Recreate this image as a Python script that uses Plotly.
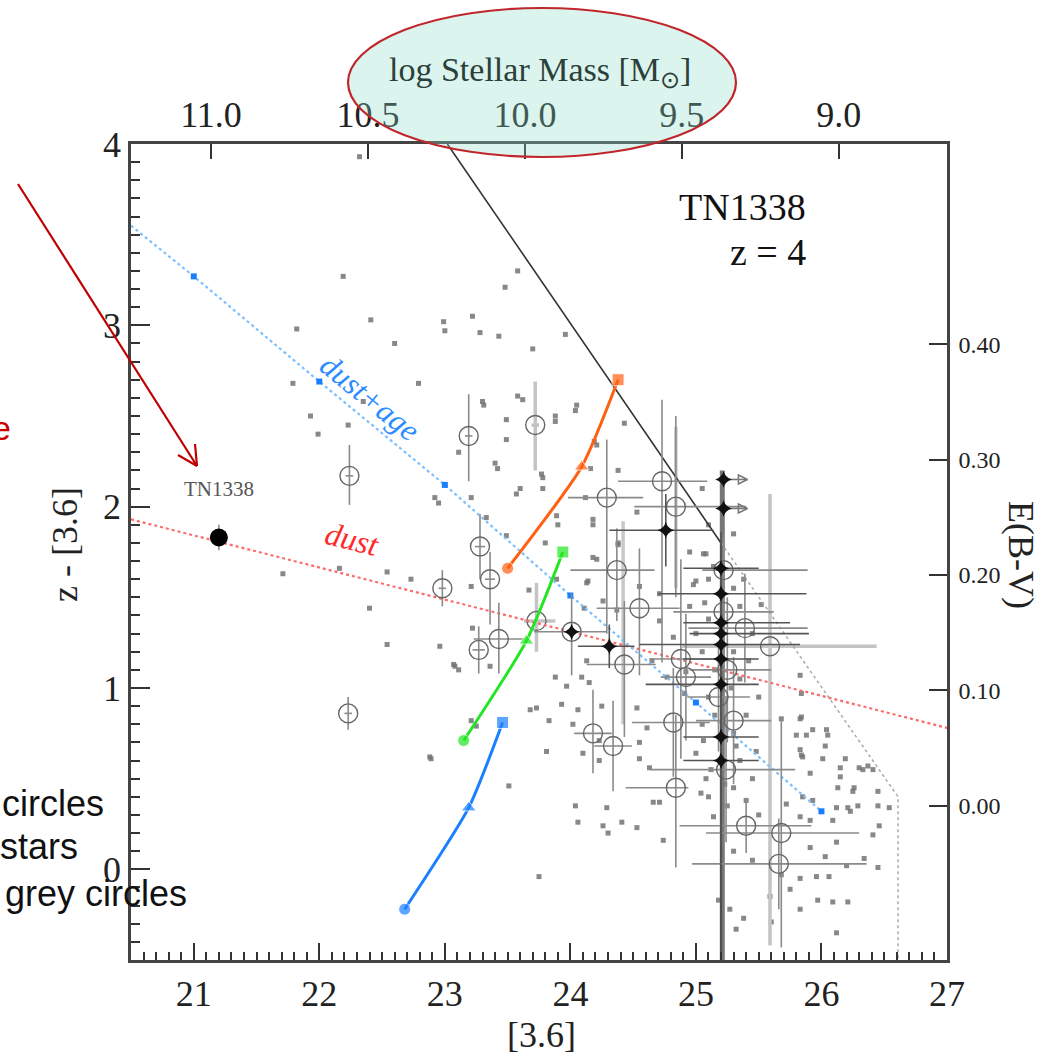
import plotly.graph_objects as go

# ---------------- data ----------------
# grey dots: (mag [3.6], colour z-[3.6])
dots = [
    (22.32, 3.93), (22.19, 3.27), (23.48, 3.21), (23.58, 3.30), (21.82, 2.98), (22.41, 3.03),
    (22.60, 2.90), (22.99, 3.02), (23.00, 2.97), (23.22, 3.05), (23.28, 2.96), (23.43, 2.94),
    (21.79, 2.68), (22.79, 2.68), (21.93, 2.50), (21.99, 2.40), (22.23, 2.45), (22.35, 2.58),
    (23.30, 2.58), (23.49, 2.48), (23.49, 2.37), (23.40, 2.24), (23.11, 2.30), (22.92, 2.05),
    (23.21, 2.05), (23.57, 2.07), (23.58, 2.61), (23.96, 2.95), (23.70, 2.87), (23.31, 2.56),
    (23.62, 2.59), (23.88, 2.47), (24.04, 2.53), (23.42, 2.21), (23.60, 2.10), (23.78, 2.10),
    (23.78, 2.16), (22.95, 2.02), (23.33, 1.94), (23.49, 1.84), (23.89, 1.95), (23.90, 1.90),
    (23.80, 1.80), (24.05, 2.56), (24.43, 2.46), (24.19, 2.36), (23.88, 2.50), (23.77, 2.18),
    (24.38, 2.20), (24.12, 2.05), (24.18, 1.93), (24.53, 1.97), (24.21, 2.34), (24.16, 2.21),
    (24.21, 1.71), (24.38, 1.79), (24.13, 1.58), (24.55, 1.56), (25.00, 1.59), (25.08, 1.74),
    (21.71, 1.63), (22.16, 1.66), (22.54, 1.64), (22.73, 1.60), (22.40, 1.44), (22.54, 1.24),
    (22.96, 1.23), (23.07, 1.13), (23.11, 1.10), (22.88, 0.62), (23.51, 0.46), (23.21, 0.82),
    (23.25, 0.79), (23.36, 1.12), (23.22, 1.33), (23.21, 1.56), (24.18, 1.90), (23.67, 1.54),
    (23.89, 1.60), (23.88, 1.06), (23.97, 1.01), (24.09, 1.06), (24.15, 1.03), (23.73, 0.89),
    (23.68, 0.88), (23.93, 0.91), (23.83, 0.82), (24.06, 0.88), (24.25, 0.90), (24.53, 0.89),
    (24.02, 0.80), (23.81, 0.65), (24.10, 0.64), (24.23, 0.60), (24.55, 0.70), (24.55, 0.61),
    (24.63, 0.56), (24.04, 0.35), (24.29, 0.34), (24.71, 0.37), (25.08, 0.50), (25.14, 0.29),
    (24.38, 1.80), (24.98, 1.57), (25.06, 1.74), (25.14, 1.67), (24.18, 1.72), (24.14, 1.59),
    (24.26, 1.48), (24.11, 1.44), (24.37, 1.43), (24.71, 1.52), (24.71, 1.37), (24.82, 1.28),
    (24.65, 1.15), (24.13, 1.15), (24.77, 1.06), (24.92, 1.09), (24.91, 0.97), (25.06, 0.71),
    (25.00, 0.64), (24.61, 0.78), (24.23, 0.71), (24.06, 0.26), (24.26, 0.24), (24.41, 0.26),
    (24.53, 0.23), (24.30, 0.20), (24.74, 0.16), (23.75, -0.04), (24.66, 0.37), (25.04, 0.42),
    (25.07, 1.47), (25.52, 1.46), (25.83, 1.07), (25.84, 0.97), (25.68, 0.83), (25.83, 0.83),
    (25.88, 0.74), (25.80, 0.74), (26.05, 0.74), (26.03, 0.68), (26.04, 0.77), (25.84, 0.63),
    (25.91, 0.53), (26.01, 0.61), (26.19, 0.61), (26.15, 0.56), (26.15, 0.51), (26.30, 0.56),
    (26.37, 0.57), (26.45, 0.43), (26.26, 0.45), (26.13, 0.45), (25.85, 0.40), (26.12, 0.34),
    (26.21, 0.34), (26.29, 0.35), (26.45, 0.35), (26.54, 0.34), (26.09, 0.27), (25.91, 0.27),
    (26.46, 0.24), (26.41, 0.19), (26.34, 0.06), (26.20, 0.02), (26.45, 0.01), (26.03, 0.07),
    (25.91, 0.12), (26.12, 0.15), (25.83, -0.05), (25.96, -0.04), (26.06, -0.04), (25.75, -0.11),
    (25.97, -0.17), (26.09, -0.18), (26.21, -0.18), (25.83, -0.22), (25.59, -0.15), (25.60, -0.29),
    (25.32, -0.33), (25.27, -0.22), (25.18, -0.17), (26.12, -0.35), (25.68, -0.03), (25.38, -0.27),
    (25.93, 0.77), (26.33, 0.55), (26.41, 0.55), (25.85, 0.62), (26.25, 0.43), (26.23, 0.32),
    (25.93, 0.38), (25.83, 0.29), (25.72, 0.36), (25.83, 0.66), (25.84, 0.84),
    (25.10, 1.60), (25.30, 1.55), (25.35, 1.45), (25.10, 1.38), (25.30, 1.20), (25.05, 1.20),
    (25.35, 1.05), (25.10, 0.95), (25.40, 0.85), (25.15, 0.85), (25.30, 0.75), (25.05, 0.80),
    (25.35, 0.60), (25.12, 0.55), (25.30, 0.45), (25.45, 0.50), (25.25, 0.35), (25.40, 0.38),
    (25.10, 0.40), (25.30, 0.10), (25.45, 0.05), (25.50, 0.30), (25.48, 0.65), (25.50, 0.95),
    (25.42, 1.15), (25.00, 1.30), (24.95, 1.45), (25.28, 1.00), (25.15, 1.10), (25.32, 0.68),
    (25.23, 0.47), (25.38, 1.60), (25.45, 1.30), (25.05, 2.10), (25.30, 1.85), (25.10, 1.90),
    (24.95, 1.75), (22.89, 0.61), (23.08, 1.12),
]
dots_x = [d[0] for d in dots]
dots_y = [d[1] for d in dots]

# open circles, dark error bars: x, y, -dx, +dx, -dy, +dy
circ_dark = [
    (22.24, 2.17, 0.03, 0.03, 0.16, 0.17), (23.19, 2.39, 0.03, 0.03, 0.25, 0.23),
    (22.23, 0.86, 0.03, 0.03, 0.09, 0.09), (22.98, 1.55, 0.03, 0.03, 0.10, 0.10),
    (23.28, 1.78, 0.04, 0.04, 0.18, 0.18), (23.36, 1.60, 0.04, 0.04, 0.25, 0.15),
    (23.27, 1.21, 0.05, 0.05, 0.13, 0.13), (23.43, 1.27, 0.20, 0.20, 0.19, 0.20),
    (24.01, 1.31, 0.30, 0.28, 0.24, 0.21), (24.37, 1.65, 0.37, 0.30, 0.28, 0.23),
    (24.55, 1.44, 0.34, 0.32, 0.37, 0.33), (24.43, 1.13, 0.30, 0.25, 0.40, 0.35),
    (24.18, 0.75, 0.15, 0.15, 0.22, 0.24), (24.34, 0.68, 0.15, 0.15, 0.25, 0.25),
    (24.84, 0.45, 0.40, 0.10, 0.44, 0.40), (24.82, 0.81, 0.33, 0.29, 0.30, 0.30),
    (24.88, 1.16, 0.25, 0.25, 0.55, 0.55), (25.40, 0.24, 0.53, 0.52, 0.15, 0.15),
    (25.68, 0.20, 0.60, 0.62, 0.63, 0.63), (25.66, 0.03, 0.69, 0.70, 0.25, 0.25),
    (25.22, 1.65, 0.17, 0.67, 0.20, 0.20), (24.29, 2.05, 0.31, 0.29, 0.75, 0.32),
    (24.73, 2.14, 0.35, 0.36, 1.00, 0.45), (24.84, 2.00, 0.33, 0.56, 0.50, 0.50),
    (25.39, 1.33, 0.45, 0.50, 0.30, 0.30), (25.22, 1.42, 0.40, 0.40, 0.30, 0.30),
    (25.25, 1.10, 0.30, 0.35, 0.40, 0.40), (25.18, 0.95, 0.25, 0.25, 0.30, 0.30),
    (25.24, 0.55, 0.60, 0.55, 0.40, 0.40), (25.30, 0.82, 0.30, 0.30, 0.35, 0.35),
    (24.92, 1.06, 0.20, 0.20, 0.35, 0.35),
]
# open circles, light (thick) error bars
circ_light = [
    (23.72, 2.45, 0.03, 0.03, 0.25, 0.24), (23.73, 1.37, 0.10, 0.15, 0.17, 0.21),
    (25.59, 1.23, 0.70, 0.85, 1.65, 0.84),
]
# extra light vertical error bars without a drawn marker: x, y, -dy, +dy
bars_light = [
    (24.42, 1.36, 0.56, 0.56), (24.84, 2.00, 0.45, 0.44),
]
# black stars: x, y, -dx, +dx, -dy, +dy
stars = [
    (24.01, 1.31, 0.0, 0.0, 0.0, 0.0), (24.31, 1.23, 0.25, 0.20, 0.12, 0.12),
    (24.76, 1.87, 0.45, 0.38, 0.20, 0.20), (25.20, 1.66, 0.30, 0.30, 0.20, 0.20),
    (25.20, 1.52, 0.50, 0.68, 0.25, 0.25), (25.20, 1.36, 0.30, 0.55, 0.30, 0.30),
    (25.20, 1.30, 0.25, 0.70, 0.30, 0.30), (25.20, 1.24, 0.65, 0.63, 0.35, 0.35),
    (25.20, 1.16, 0.30, 0.30, 0.40, 0.40), (25.20, 1.02, 0.60, 0.30, 0.50, 0.50),
    (25.20, 0.73, 0.30, 0.30, 0.60, 0.60), (25.20, 0.60, 0.30, 0.30, 1.10, 0.60),
]
# lower limits (arrow to the right)
lim_x = [25.22, 25.22]
lim_y = [2.15, 1.99]
lim_len = [0.19, 0.19]

# reddening vectors
dust_x = [20.5, 27.0]
dust_y = [1.93, 0.78]
dustage_x = [20.5, 21, 22, 23, 24, 25, 26]
dustage_y = [3.55, 3.27, 2.69, 2.12, 1.51, 0.92, 0.32]
# completeness / limit lines
limit_x = [23.02, 25.20, 25.20]
limit_y = [4.00, 1.80, -0.50]
column_x = [25.21, 25.21]
column_y = [2.20, -0.50]
compl_x = [25.20, 26.61, 26.61]
compl_y = [1.80, 0.40, -0.50]
# model tracks (circle, triangle, square)
orange_x = [23.50, 24.09, 24.38]
orange_y = [1.66, 2.22, 2.70]
green_x = [23.15, 23.65, 23.94]
green_y = [0.71, 1.26, 1.75]
blue_x = [22.68, 23.19, 23.46]
blue_y = [-0.22, 0.34, 0.81]
# TN1338 itself
tn_x = [21.20]
tn_y = [1.83]

# axes
x_ticks = [21, 22, 23, 24, 25, 26, 27]
y_ticks = [0, 1, 2, 3, 4]
mass_ticks = [11.0, 10.5, 10.0, 9.5, 9.0]
mass_labels = ["11.0", "10.5", "10.0", "9.5", "9.0"]
ebv_ticks = [0.0, 0.1, 0.2, 0.3, 0.4]
ebv_labels = ["0.00", "0.10", "0.20", "0.30", "0.40"]

X_RANGE = [20.5, 27.0]
Y_RANGE = [-0.5, 4.0]
MASS_ZERO, MASS_SLOPE = 19.455, -0.4          # log M = a - 0.4 [3.6]
EBV_ZERO, EBV_SCALE = 0.352, 6.36             # colour = 0.352 + 6.36 E(B-V)

# ---------------- figure ----------------
W, H = 1050, 1056
L, R, T, B = 131, 103, 144, 96
PW, PH = W - L - R, H - T - B
SERIF = "Liberation Serif"
SANS = "Liberation Sans"


def pap(px, py):
    return (px - L) / PW, (H - B - py) / PH


def unpack(rows):
    cols = list(zip(*rows))
    return [list(c) for c in cols]


fig = go.Figure()

# grey dots
fig.add_trace(go.Scatter(x=dots_x, y=dots_y, mode="markers",
                         marker=dict(symbol="square", size=5, color="rgba(115,115,115,0.85)"),
                         hoverinfo="skip", showlegend=False))

# light error bars
bx, by, bym, byp = unpack(bars_light)
fig.add_trace(go.Scatter(x=bx, y=by, mode="markers", marker=dict(size=1, opacity=0),
                         error_y=dict(type="data", symmetric=False, array=byp, arrayminus=bym,
                                      color="#c8c8c8", thickness=3.5, width=0),
                         hoverinfo="skip", showlegend=False))
cx, cy, cxm, cxp, cym, cyp = unpack(circ_light)
fig.add_trace(go.Scatter(x=cx, y=cy, mode="markers",
                         marker=dict(symbol="circle-open", size=19, color="#666", line=dict(width=1.4)),
                         error_x=dict(type="data", symmetric=False, array=cxp, arrayminus=cxm,
                                      color="#c4c4c4", thickness=3.5, width=0),
                         error_y=dict(type="data", symmetric=False, array=cyp, arrayminus=cym,
                                      color="#c4c4c4", thickness=3.5, width=0),
                         hoverinfo="skip", showlegend=False))

# red "dust" vector
fig.add_trace(go.Scatter(x=dust_x, y=dust_y, mode="lines",
                         line=dict(color="#ff6a6a", width=2.2, dash="dot"),
                         hoverinfo="skip", showlegend=False))
# blue "dust+age" vector
fig.add_trace(go.Scatter(x=dustage_x, y=dustage_y, mode="lines",
                         line=dict(color="#7cc0ff", width=2.2, dash="dot"),
                         hoverinfo="skip", showlegend=False))
fig.add_trace(go.Scatter(x=dustage_x[1:], y=dustage_y[1:], mode="markers",
                         marker=dict(symbol="square", size=6, color="#1a7fff"),
                         hoverinfo="skip", showlegend=False))

# dense column of limits
fig.add_trace(go.Scatter(x=column_x, y=column_y, mode="lines",
                         line=dict(color="#777", width=5),
                         hoverinfo="skip", showlegend=False))
# limit lines
fig.add_trace(go.Scatter(x=limit_x, y=limit_y, mode="lines",
                         line=dict(color="#333", width=1.6),
                         hoverinfo="skip", showlegend=False))
fig.add_trace(go.Scatter(x=compl_x, y=compl_y, mode="lines",
                         line=dict(color="#aaaaaa", width=1.5, dash="dot"),
                         hoverinfo="skip", showlegend=False))

# dark error-bar circles
cx, cy, cxm, cxp, cym, cyp = unpack(circ_dark)
fig.add_trace(go.Scatter(x=cx, y=cy, mode="markers",
                         marker=dict(symbol="circle-open", size=19, color="#666", line=dict(width=1.4)),
                         error_x=dict(type="data", symmetric=False, array=cxp, arrayminus=cxm,
                                      color="#8a8a8a", thickness=1.6, width=0),
                         error_y=dict(type="data", symmetric=False, array=cyp, arrayminus=cym,
                                      color="#8a8a8a", thickness=1.6, width=0),
                         hoverinfo="skip", showlegend=False))

# black stars
sx, sy, sxm, sxp, sym, syp = unpack(stars)
fig.add_trace(go.Scatter(x=sx, y=sy, mode="markers",
                         marker=dict(symbol="star-diamond", size=12, color="#111"),
                         error_x=dict(type="data", symmetric=False, array=sxp, arrayminus=sxm,
                                      color="#555", thickness=1.6, width=0),
                         error_y=dict(type="data", symmetric=False, array=syp, arrayminus=sym,
                                      color="#555", thickness=1.6, width=0),
                         hoverinfo="skip", showlegend=False))
# lower limits
fig.add_trace(go.Scatter(x=lim_x, y=lim_y, mode="markers",
                         marker=dict(symbol="star-diamond", size=12, color="#111"),
                         error_x=dict(type="data", symmetric=False, array=lim_len, arrayminus=[0, 0],
                                      color="#777", thickness=1.6, width=0),
                         hoverinfo="skip", showlegend=False))
fig.add_trace(go.Scatter(x=[a + b for a, b in zip(lim_x, lim_len)], y=lim_y, mode="markers",
                         marker=dict(symbol="arrow-right-open", size=9, color="#777", line=dict(width=1.5)),
                         hoverinfo="skip", showlegend=False))

# model tracks
for tx, ty, col in [(orange_x, orange_y, "#ff6010"), (green_x, green_y, "#22e622"), (blue_x, blue_y, "#1a80ff")]:
    fig.add_trace(go.Scatter(x=tx, y=ty, mode="lines+markers",
                             line=dict(color=col, width=3, shape="spline", smoothing=0.6),
                             marker=dict(symbol=["circle", "triangle-up", "square"], size=[12, 13, 12], color=col),
                             hoverinfo="skip", showlegend=False))

# TN1338
fig.add_trace(go.Scatter(x=tn_x, y=tn_y, mode="markers",
                         marker=dict(symbol="circle", size=18, color="#000"),
                         error_y=dict(type="data", array=[0.07], color="#888", thickness=1.5, width=0),
                         hoverinfo="skip", showlegend=False))

# invisible trace carrying the secondary axes
fig.add_trace(go.Scatter(x=[10.0], y=[0.2], xaxis="x2", yaxis="y2", mode="markers",
                         marker=dict(opacity=0), hoverinfo="skip", showlegend=False))

axis_common = dict(showline=True, linecolor="#444", linewidth=2.5, showgrid=False, zeroline=False,
                   ticks="inside", tickcolor="#333", tickwidth=2)

mass_range = [MASS_ZERO + MASS_SLOPE * X_RANGE[0], MASS_ZERO + MASS_SLOPE * X_RANGE[1]]
ebv_range = [(Y_RANGE[0] - EBV_ZERO) / EBV_SCALE, (Y_RANGE[1] - EBV_ZERO) / EBV_SCALE]

fig.update_layout(
    width=W, height=H, margin=dict(l=L, r=R, t=T, b=B, pad=0),
    paper_bgcolor="white", plot_bgcolor="white",
    font=dict(family=SERIF, color="#222"),
    xaxis=dict(axis_common, range=X_RANGE, tickvals=x_ticks, ticklen=17,
               tickfont=dict(family=SERIF, size=36, color="#222"), ticklabelstandoff=0,
               minor=dict(ticks="inside", dtick=0.1, tick0=21, ticklen=8, tickcolor="#333", tickwidth=2)),
    yaxis=dict(axis_common, range=Y_RANGE, tickvals=y_ticks, ticklen=19,
               tickfont=dict(family=SERIF, size=36, color="#222"), ticklabelstandoff=0,
               minor=dict(ticks="inside", dtick=0.1, tick0=0, ticklen=9, tickcolor="#333", tickwidth=2)),
    xaxis2=dict(axis_common, overlaying="x", side="top", anchor="y2", range=mass_range,
                tickvals=mass_ticks, ticktext=mass_labels, ticklen=15,
                tickfont=dict(family=SERIF, size=36, color="#222"), ticklabelstandoff=0),
    yaxis2=dict(axis_common, overlaying="y", side="right", anchor="x2", range=ebv_range,
                tickvals=ebv_ticks, ticktext=ebv_labels, ticklen=18,
                tickfont=dict(family=SERIF, size=24, color="#222"), ticklabelstandoff=4),
)

anns = []


def ann(px, py, text, size, color="#222", family=SERIF, xanchor="center", angle=0):
    x, y = pap(px, py)
    anns.append(dict(x=x, y=y, xref="paper", yref="paper", text=text, showarrow=False,
                     xanchor=xanchor, yanchor="middle", textangle=angle,
                     font=dict(family=family, size=size, color=color)))


ann(65, 545, "z - [3.6]", 36, angle=-90)
ann(541, 1035, "[3.6]", 36)
ann(1021, 555, "E(B-V)", 36, angle=90)
ann(540, 72, "log Stellar Mass [M<sub>⊙</sub>]", 34, color="#2b403a")
ann(808, 207, "TN1338", 38, color="#111", xanchor="right")
ann(808, 252, "z = 4", 38, color="#111", xanchor="right")
ann(0, 803, "circles", 36, color="#111", family=SANS, xanchor="left")
ann(-2, 846, "stars", 36, color="#111", family=SANS, xanchor="left")
ann(3, 893, "grey circles", 36, color="#111", family=SANS, xanchor="left")
ann(-10, 428, "e", 34, color="#cc0000", family=SANS, xanchor="left")

# data-anchored labels
anns.append(dict(x=tn_x[0], y=tn_y[0] + 0.27, xref="x", yref="y", text="TN1338", showarrow=False,
                 font=dict(family=SERIF, size=21, color="#555")))
anns.append(dict(x=22.26, y=1.82, xref="x", yref="y", text="<i>dust</i>", showarrow=False, textangle=14,
                 font=dict(family=SERIF, size=32, color="#ff2a2a")))
anns.append(dict(x=22.40, y=2.60, xref="x", yref="y", text="<i>dust+age</i>", showarrow=False, textangle=39,
                 font=dict(family=SERIF, size=31, color="#2a8cff")))
fig.update_layout(annotations=anns)

# ellipse around the top-axis title and the red pointer arrow
ex0, ey0 = pap(348, 157)
ex1, ey1 = pap(736, 8)
shapes = [dict(type="circle", xref="paper", yref="paper", x0=ex0, y0=ey0, x1=ex1, y1=ey1,
               fillcolor="rgba(138,218,198,0.30)", line=dict(color="#c0272d", width=2.2), layer="above")]
tip = pap(197, 466)
for (sxp_, syp_) in [(18, 184), (178, 455), (195, 444)]:
    a = pap(sxp_, syp_)
    shapes.append(dict(type="line", xref="paper", yref="paper", x0=a[0], y0=a[1], x1=tip[0], y1=tip[1],
                       line=dict(color="#c00000", width=2.2), layer="above"))
fig.update_layout(shapes=shapes)

fig.write_html("out.html", config={"displayModeBar": False},
               post_script="document.body.style.margin='0px';")
